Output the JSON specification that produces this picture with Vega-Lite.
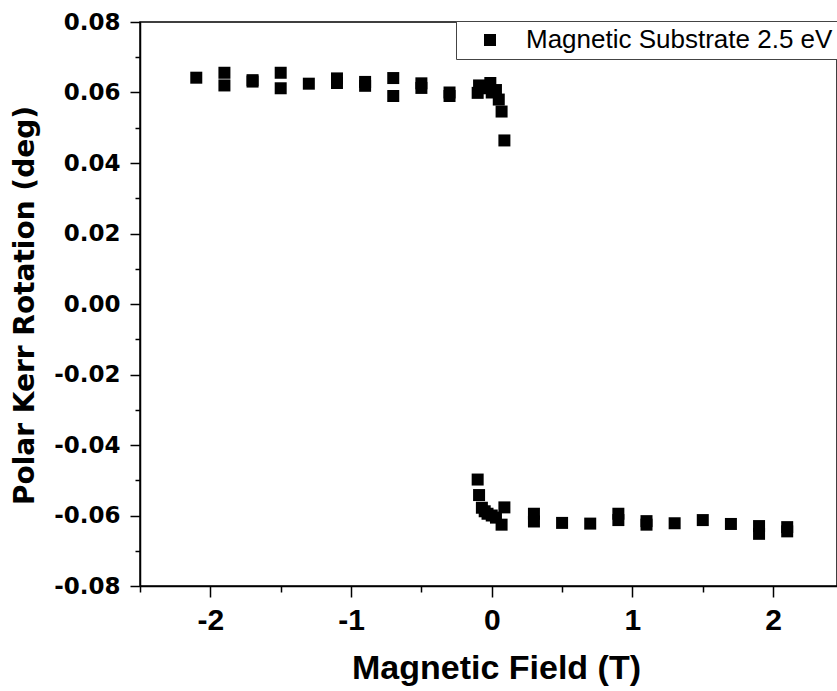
{
  "$schema": "https://vega.github.io/schema/vega-lite/v6.json",
  "width": 697,
  "height": 564,
  "autosize": {"type": "none"},
  "padding": {"left": 140, "top": 22, "right": 0, "bottom": 105},
  "background": "white",
  "config": {
    "view": {"stroke": "black", "strokeWidth": 1.5},
    "axis": {"grid": false, "domainColor": "black", "tickColor": "black", "labelColor": "black", "titleColor": "black", "domainWidth": 1.5, "tickWidth": 1.5}
  },
  "data": {
    "values": [
      {"B": -2.1, "K": 0.0642, "s": "Magnetic Substrate 2.5 eV"},
      {"B": -1.9, "K": 0.0656, "s": "Magnetic Substrate 2.5 eV"},
      {"B": -1.9, "K": 0.0620, "s": "Magnetic Substrate 2.5 eV"},
      {"B": -1.7, "K": 0.0635, "s": "Magnetic Substrate 2.5 eV"},
      {"B": -1.7, "K": 0.0631, "s": "Magnetic Substrate 2.5 eV"},
      {"B": -1.5, "K": 0.0656, "s": "Magnetic Substrate 2.5 eV"},
      {"B": -1.5, "K": 0.0612, "s": "Magnetic Substrate 2.5 eV"},
      {"B": -1.3, "K": 0.0625, "s": "Magnetic Substrate 2.5 eV"},
      {"B": -1.1, "K": 0.0640, "s": "Magnetic Substrate 2.5 eV"},
      {"B": -1.1, "K": 0.0627, "s": "Magnetic Substrate 2.5 eV"},
      {"B": -0.9, "K": 0.0630, "s": "Magnetic Substrate 2.5 eV"},
      {"B": -0.9, "K": 0.0619, "s": "Magnetic Substrate 2.5 eV"},
      {"B": -0.7, "K": 0.0641, "s": "Magnetic Substrate 2.5 eV"},
      {"B": -0.7, "K": 0.0590, "s": "Magnetic Substrate 2.5 eV"},
      {"B": -0.5, "K": 0.0626, "s": "Magnetic Substrate 2.5 eV"},
      {"B": -0.5, "K": 0.0613, "s": "Magnetic Substrate 2.5 eV"},
      {"B": -0.3, "K": 0.0600, "s": "Magnetic Substrate 2.5 eV"},
      {"B": -0.3, "K": 0.0590, "s": "Magnetic Substrate 2.5 eV"},
      {"B": -0.1, "K": 0.0599, "s": "Magnetic Substrate 2.5 eV"},
      {"B": -0.09, "K": 0.0620, "s": "Magnetic Substrate 2.5 eV"},
      {"B": -0.05, "K": 0.0612, "s": "Magnetic Substrate 2.5 eV"},
      {"B": -0.01, "K": 0.0627, "s": "Magnetic Substrate 2.5 eV"},
      {"B": 0.0, "K": 0.0600, "s": "Magnetic Substrate 2.5 eV"},
      {"B": 0.03, "K": 0.0607, "s": "Magnetic Substrate 2.5 eV"},
      {"B": 0.05, "K": 0.0580, "s": "Magnetic Substrate 2.5 eV"},
      {"B": 0.07, "K": 0.0546, "s": "Magnetic Substrate 2.5 eV"},
      {"B": 0.09, "K": 0.0464, "s": "Magnetic Substrate 2.5 eV"},
      {"B": -0.1, "K": -0.0498, "s": "Magnetic Substrate 2.5 eV"},
      {"B": -0.09, "K": -0.0542, "s": "Magnetic Substrate 2.5 eV"},
      {"B": -0.07, "K": -0.0578, "s": "Magnetic Substrate 2.5 eV"},
      {"B": -0.05, "K": -0.0588, "s": "Magnetic Substrate 2.5 eV"},
      {"B": -0.03, "K": -0.0595, "s": "Magnetic Substrate 2.5 eV"},
      {"B": 0.0, "K": -0.0600, "s": "Magnetic Substrate 2.5 eV"},
      {"B": 0.03, "K": -0.0606, "s": "Magnetic Substrate 2.5 eV"},
      {"B": 0.07, "K": -0.0626, "s": "Magnetic Substrate 2.5 eV"},
      {"B": 0.09, "K": -0.0577, "s": "Magnetic Substrate 2.5 eV"},
      {"B": 0.3, "K": -0.0595, "s": "Magnetic Substrate 2.5 eV"},
      {"B": 0.3, "K": -0.0617, "s": "Magnetic Substrate 2.5 eV"},
      {"B": 0.5, "K": -0.0621, "s": "Magnetic Substrate 2.5 eV"},
      {"B": 0.7, "K": -0.0623, "s": "Magnetic Substrate 2.5 eV"},
      {"B": 0.9, "K": -0.0595, "s": "Magnetic Substrate 2.5 eV"},
      {"B": 0.9, "K": -0.0613, "s": "Magnetic Substrate 2.5 eV"},
      {"B": 1.1, "K": -0.0616, "s": "Magnetic Substrate 2.5 eV"},
      {"B": 1.1, "K": -0.0626, "s": "Magnetic Substrate 2.5 eV"},
      {"B": 1.3, "K": -0.0622, "s": "Magnetic Substrate 2.5 eV"},
      {"B": 1.5, "K": -0.0613, "s": "Magnetic Substrate 2.5 eV"},
      {"B": 1.7, "K": -0.0624, "s": "Magnetic Substrate 2.5 eV"},
      {"B": 1.9, "K": -0.0630, "s": "Magnetic Substrate 2.5 eV"},
      {"B": 1.9, "K": -0.0652, "s": "Magnetic Substrate 2.5 eV"},
      {"B": 2.1, "K": -0.0633, "s": "Magnetic Substrate 2.5 eV"},
      {"B": 2.1, "K": -0.0645, "s": "Magnetic Substrate 2.5 eV"}
    ]
  },
  "layer": [
    {
      "mark": {"type": "point", "shape": "square", "filled": true, "size": 144, "opacity": 1},
      "encoding": {
        "x": {
          "field": "B", "type": "quantitative",
          "scale": {"domain": [-2.5, 2.454], "nice": false, "zero": false},
          "axis": {
            "orient": "bottom",
            "values": [-2, -1, 0, 1, 2],
            "tickSize": 11,
            "labelExpr": "replace(format(datum.value, 'd'), '\u2212', '-')",
            "labelFont": "Liberation Sans", "labelFontWeight": "bold", "labelFontSize": 30,
            "labelPadding": 8,
            "labelFlush": false,
            "title": "Magnetic Field (T)",
            "titleFont": "Liberation Sans", "titleFontWeight": "bold", "titleFontSize": 34,
            "titleX": 356, "titleY": 92, "titleBaseline": "alphabetic", "titleAlign": "center"
          }
        },
        "y": {
          "field": "K", "type": "quantitative",
          "scale": {"domain": [-0.08, 0.08], "nice": false, "zero": false},
          "axis": {
            "orient": "left",
            "values": [-0.08, -0.06, -0.04, -0.02, 0, 0.02, 0.04, 0.06, 0.08],
            "tickSize": 10,
            "labelExpr": "replace(format(datum.value, '.2f'), '\u2212', '-')",
            "labelFont": "DejaVu Sans", "labelFontWeight": "bold", "labelFontSize": 23,
            "labelPadding": 10,
            "labelFlush": false,
            "title": "Polar Kerr Rotation (deg)",
            "titleFont": "DejaVu Sans", "titleFontWeight": "bold", "titleFontSize": 28,
            "titleAngle": -90, "titleX": -107, "titleY": 283, "titleBaseline": "alphabetic", "titleAlign": "center"
          }
        },
        "color": {
          "field": "s", "type": "nominal",
          "scale": {"range": ["black"]},
          "legend": {
            "orient": "none", "legendX": 316, "legendY": -1,
            "title": null,
            "symbolType": "square", "symbolSize": 144, "symbolFillColor": "black", "symbolStrokeWidth": 0,
            "symbolOffset": 15,
            "labelFont": "Liberation Sans", "labelFontSize": 26, "labelColor": "black", "labelOffset": 23,
            "labelLimit": 600,
            "padding": 6,
            "strokeColor": "#444", "fillColor": "white", "cornerRadius": 0
          }
        }
      }
    },
    {
      "mark": {"type": "point", "opacity": 0},
      "encoding": {
        "x": {
          "field": "B", "type": "quantitative",
          "axis": {
            "orient": "bottom",
            "values": [-2.5, -1.5, -0.5, 0.5, 1.5, 2.5],
            "tickSize": 6, "labels": false, "domain": false, "title": null
          }
        },
        "y": {
          "field": "K", "type": "quantitative",
          "axis": {
            "orient": "left",
            "values": [-0.07, -0.05, -0.03, -0.01, 0.01, 0.03, 0.05, 0.07],
            "tickSize": 5, "labels": false, "domain": false, "title": null
          }
        }
      }
    }
  ],
  "resolve": {"axis": {"x": "independent", "y": "independent"}}
}
